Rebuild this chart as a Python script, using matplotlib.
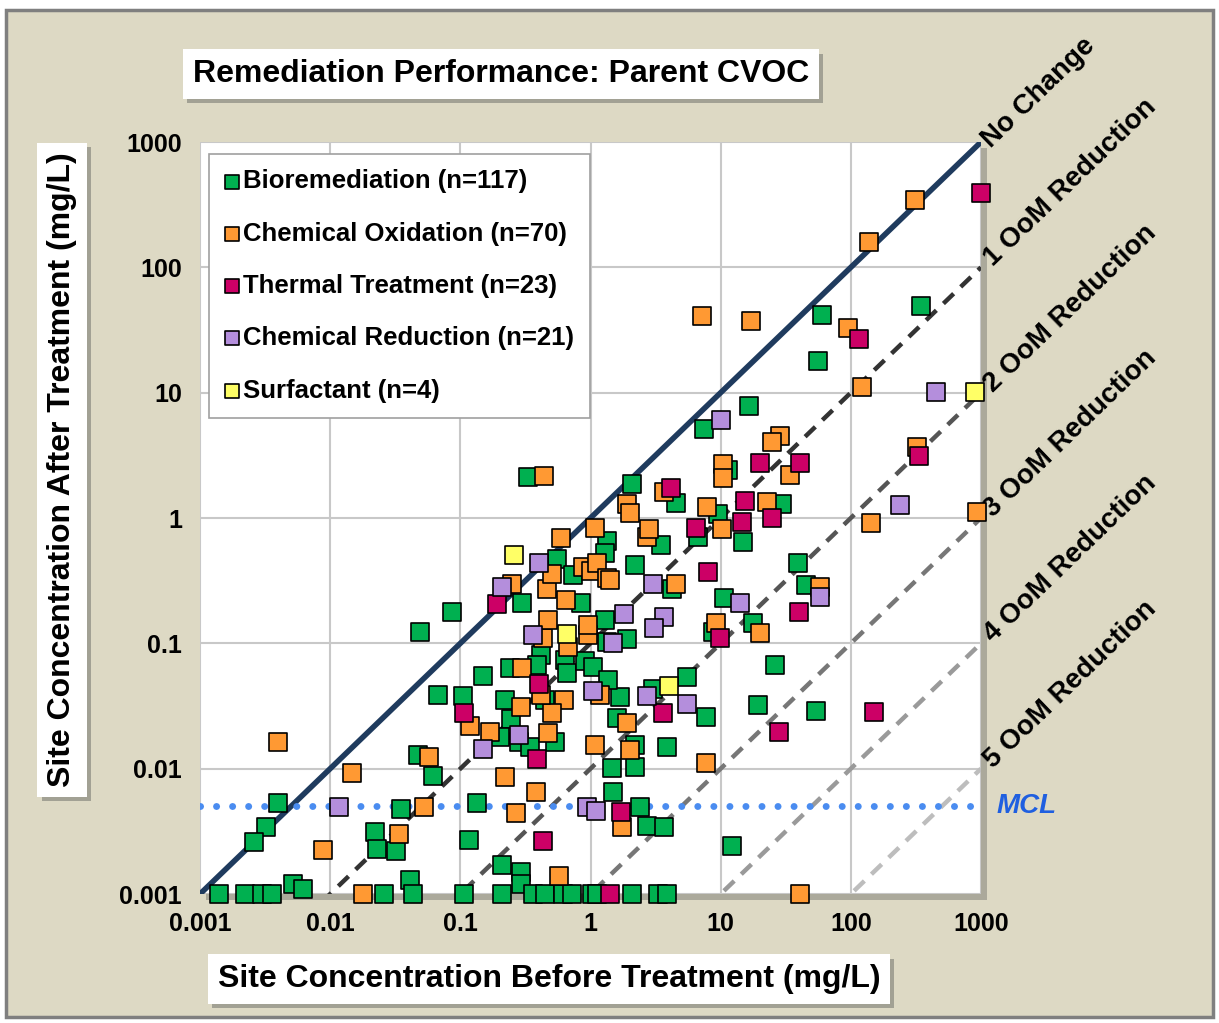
import matplotlib.pyplot as plt
import matplotlib.patheffects as pe
from matplotlib.patches import Rectangle
import numpy as np

plt.rcParams['font.family'] = ['Liberation Sans', 'DejaVu Sans']
plt.rcParams['font.weight'] = 'bold'

# site concentrations (mg/L), before -> after
bio_x = [0.0014, 0.0022, 0.003, 0.0036, 0.0052, 0.0062, 0.004, 0.0032, 0.0026, 0.035,
         0.022, 0.023, 0.032, 0.062, 0.047, 0.026, 0.041, 0.043, 0.134, 0.117,
         0.21, 0.29, 0.29, 0.107, 0.21, 0.36, 0.45, 0.62, 0.72, 1.03,
         1.12, 2.1, 3.3, 3.9, 1.46, 2.2, 1.5, 2.4, 2.7, 3.7,
         3.9, 2.2, 12.2, 1.6, 1.7, 3.0, 5.5, 7.7, 19.4, 26,
         54, 10.6, 17.7, 39, 45, 8.7, 2.1, 4.5, 9.5, 6.7,
         3.5, 11.4, 29.6, 14.8, 4.2, 2.2, 60, 347, 56, 16.5,
         7.4, 0.33, 1.34, 1.29, 0.55, 0.73, 0.30, 0.85, 0.086, 0.049,
         0.42, 0.39, 0.24, 0.15, 0.64, 0.66, 0.91, 1.04, 1.29, 1.9,
         1.34, 1.36, 0.22, 0.45, 0.245, 0.067, 0.105, 0.2, 0.28, 0.34, 0.53]
bio_y = [0.001, 0.001, 0.001, 0.001, 0.0012, 0.0011, 0.0053, 0.0034, 0.0026, 0.0048,
         0.0031, 0.0023, 0.0022, 0.0087, 0.0129, 0.001, 0.0013, 0.001, 0.0053, 0.0027,
         0.0017, 0.0015, 0.0012, 0.001, 0.001, 0.001, 0.001, 0.001, 0.001, 0.001,
         0.001, 0.001, 0.001, 0.001, 0.0101, 0.0103, 0.0065, 0.0049, 0.0035, 0.0034,
         0.0149, 0.0155, 0.0024, 0.0254, 0.0373, 0.0433, 0.054, 0.0259, 0.032, 0.067,
         0.029, 0.23, 0.146, 0.44, 0.29, 0.123, 1.87, 1.32, 1.08, 0.71,
         0.61, 2.4, 1.3, 0.64, 0.27, 0.42, 41.8, 49, 18, 7.85,
         5.1, 2.13, 0.66, 0.53, 0.47, 0.35, 0.21, 0.21, 0.178, 0.123,
         0.081, 0.067, 0.064, 0.055, 0.074, 0.058, 0.072, 0.065, 0.154, 0.108,
         0.103, 0.051, 0.035, 0.035, 0.025, 0.039, 0.038, 0.018, 0.0163, 0.0149, 0.0163]

chemox_x = [0.004, 0.0147, 0.0088, 0.057, 0.053, 0.034, 0.018, 0.22, 0.38, 0.27,
            1.75, 0.57, 2.0, 1.08, 7.7, 41, 1.9, 0.63, 0.51, 0.29,
            0.17, 0.47, 0.119, 0.42, 0.30, 1.18, 0.67, 0.43, 0.47, 0.95,
            0.95, 0.65, 0.46, 0.25, 0.51, 0.59, 0.44, 0.87, 1.0, 1.12,
            1.08, 1.34, 1.41, 1.9, 2.0, 2.7, 2.8, 3.7, 7.8, 10.2,
            10.4, 10.4, 34, 22.7, 4.5, 9.2, 20, 58, 143, 930,
            322, 122, 95, 7.2, 17.1, 138, 309, 28.5, 25]
chemox_y = [0.0163, 0.0092, 0.00224, 0.0124, 0.0049, 0.003, 0.001, 0.0086, 0.0065, 0.0044,
            0.0034, 0.0014, 0.0141, 0.0155, 0.0111, 0.001, 0.023, 0.035, 0.028, 0.031,
            0.0196, 0.0193, 0.022, 0.039, 0.064, 0.039, 0.094, 0.11, 0.154, 0.117,
            0.14, 0.22, 0.27, 0.30, 0.36, 0.69, 2.17, 0.41, 0.38, 0.44,
            0.83, 0.33, 0.32, 1.3, 1.1, 0.71, 0.82, 1.6, 1.23, 0.82,
            2.7, 2.09, 2.2, 1.34, 0.30, 0.146, 0.121, 0.28, 0.91, 1.12,
            3.7, 11.1, 32.9, 41, 37.4, 160, 346, 4.5, 4.05]

thermal_x = [1000, 116, 333, 20, 41, 15.4, 4.15, 25, 14.6, 6.5,
             8.0, 40, 9.9, 151, 28, 3.6, 1.71, 1.41, 0.43, 0.39,
             0.40, 0.107, 0.19]
thermal_y = [394, 26.9, 3.13, 2.75, 2.75, 1.37, 1.74, 1.0, 0.93, 0.83,
             0.37, 0.178, 0.11, 0.0283, 0.0196, 0.0279, 0.0045, 0.001, 0.00265, 0.0119,
             0.047, 0.0279, 0.206]

chemred_x = [451, 10, 239, 58, 14, 3.7, 3.1, 2.7, 5.5, 1.8,
             1.5, 1.04, 0.36, 0.40, 0.21, 0.28, 0.15, 0.0117, 0.94, 1.1, 3.0]
chemred_y = [10.1, 6.0, 1.27, 0.234, 0.21, 0.163, 0.133, 0.038, 0.033, 0.172,
             0.101, 0.042, 0.117, 0.44, 0.28, 0.0186, 0.0144, 0.0049, 0.0049, 0.0046, 0.30]

surf_x = [900, 0.26, 0.66, 4.0]
surf_y = [10.1, 0.51, 0.119, 0.046]

series = [
    ("Bioremediation (n=117)", bio_x, bio_y, '#00B050'),
    ("Chemical Oxidation (n=70)", chemox_x, chemox_y, '#FF9933'),
    ("Thermal Treatment (n=23)", thermal_x, thermal_y, '#CC0066'),
    ("Chemical Reduction (n=21)", chemred_x, chemred_y, '#B48EDC'),
    ("Surfactant (n=4)", surf_x, surf_y, '#FFFF66'),
]

oom_labels = ["No Change", "1 OoM Reduction", "2 OoM Reduction", "3 OoM Reduction",
              "4 OoM Reduction", "5 OoM Reduction"]
line_colors = ['#1F3B5E', '#333333', '#555555', '#777777', '#9A9A9A', '#BDBDBD']
mcl = 0.005
ticks = [0.001, 0.01, 0.1, 1, 10, 100, 1000]
tick_labels = ['0.001', '0.01', '0.1', '1', '10', '100', '1000']

fig = plt.figure(figsize=(12.19, 10.23), dpi=100, facecolor='white')
bg = Rectangle((6 / 1219, 1 - 1017 / 1023), 1207 / 1219, 1007 / 1023,
               transform=fig.transFigure, fc='#DDD9C4', ec='#7F7F7F', lw=2.5, zorder=-10)
fig.patches.append(bg)

ax = fig.add_axes([200 / 1219, 1 - 894 / 1023, 781 / 1219, 752 / 1023])
ax.patch.set_path_effects([pe.withSimplePatchShadow(offset=(4, -4), shadow_rgbFace='#8A8A80', alpha=0.6)])
ax.set_xscale('log')
ax.set_yscale('log')
ax.set_xlim(0.001, 1000)
ax.set_ylim(0.001, 1000)
ax.set_xticks(ticks)
ax.set_xticklabels(tick_labels)
ax.set_yticks(ticks)
ax.set_yticklabels(tick_labels)
ax.minorticks_off()
ax.tick_params(length=0, labelsize=18, pad=13)
ax.grid(True, which='major', color='#C8C8C8', lw=1.5, zorder=0)
ax.set_axisbelow(True)
for s in ax.spines.values():
    s.set_visible(False)

# reduction lines
xx = np.array([0.001, 1000])
for k, (lab, c) in enumerate(zip(oom_labels, line_colors)):
    if k == 0:
        ax.plot(xx, xx, color=c, lw=4, solid_capstyle='butt', zorder=2)
        off = (10, -8)
    else:
        ax.plot(xx, xx / 10 ** k, color=c, lw=3.2, dashes=(3.2, 2.2), zorder=2)
        off = (12, -3)
    ax.annotate(lab, xy=(1000, 1000 / 10 ** k), xytext=off, textcoords='offset points',
                rotation=44, rotation_mode='anchor', ha='left', va='bottom',
                fontsize=20, fontweight='bold', annotation_clip=False)

ax.axhline(mcl, color='#4A8CF0', lw=5, dashes=(0.01, 2.3), dash_capstyle='round', zorder=2)
ax.annotate("MCL", xy=(1000, mcl), xytext=(11, 0), textcoords='offset points',
            ha='left', va='center', color='#1F5FE0', fontsize=20, fontweight='bold',
            fontstyle='italic', annotation_clip=False)

for lab, x, y, c in series:
    ax.scatter(x, y, marker='s', s=150, c=c, edgecolors='black', linewidths=1.2,
               label=lab, zorder=3, clip_on=False)

leg = ax.legend(loc='upper left', bbox_to_anchor=(0.012, 0.984), fontsize=18.5,
                frameon=True, fancybox=False, edgecolor='#A0A0A0', framealpha=1,
                handlelength=0.6, handletextpad=0.12, labelspacing=1.1,
                borderpad=0.6, markerscale=0.85, borderaxespad=0)
leg.get_frame().set_linewidth(1.2)

def boxed(x, y, txt, rot=0):
    t = fig.text(x / 1219, 1 - y / 1023, txt, ha='center', va='center', rotation=rot,
                 fontsize=23, fontweight='bold',
                 bbox=dict(boxstyle='square,pad=0.3', fc='white', ec='none'))
    t.get_bbox_patch().set_path_effects([pe.withSimplePatchShadow(offset=(3, -3),
                                         shadow_rgbFace='#8A8A80', alpha=0.7)])
    return t

boxed(501, 74, "Remediation Performance: Parent CVOC")
boxed(549, 979, "Site Concentration Before Treatment (mg/L)")
boxed(62, 470, "Site Concentration After Treatment (mg/L)", rot=90)

plt.savefig('out.png', dpi=100, facecolor=fig.get_facecolor())
